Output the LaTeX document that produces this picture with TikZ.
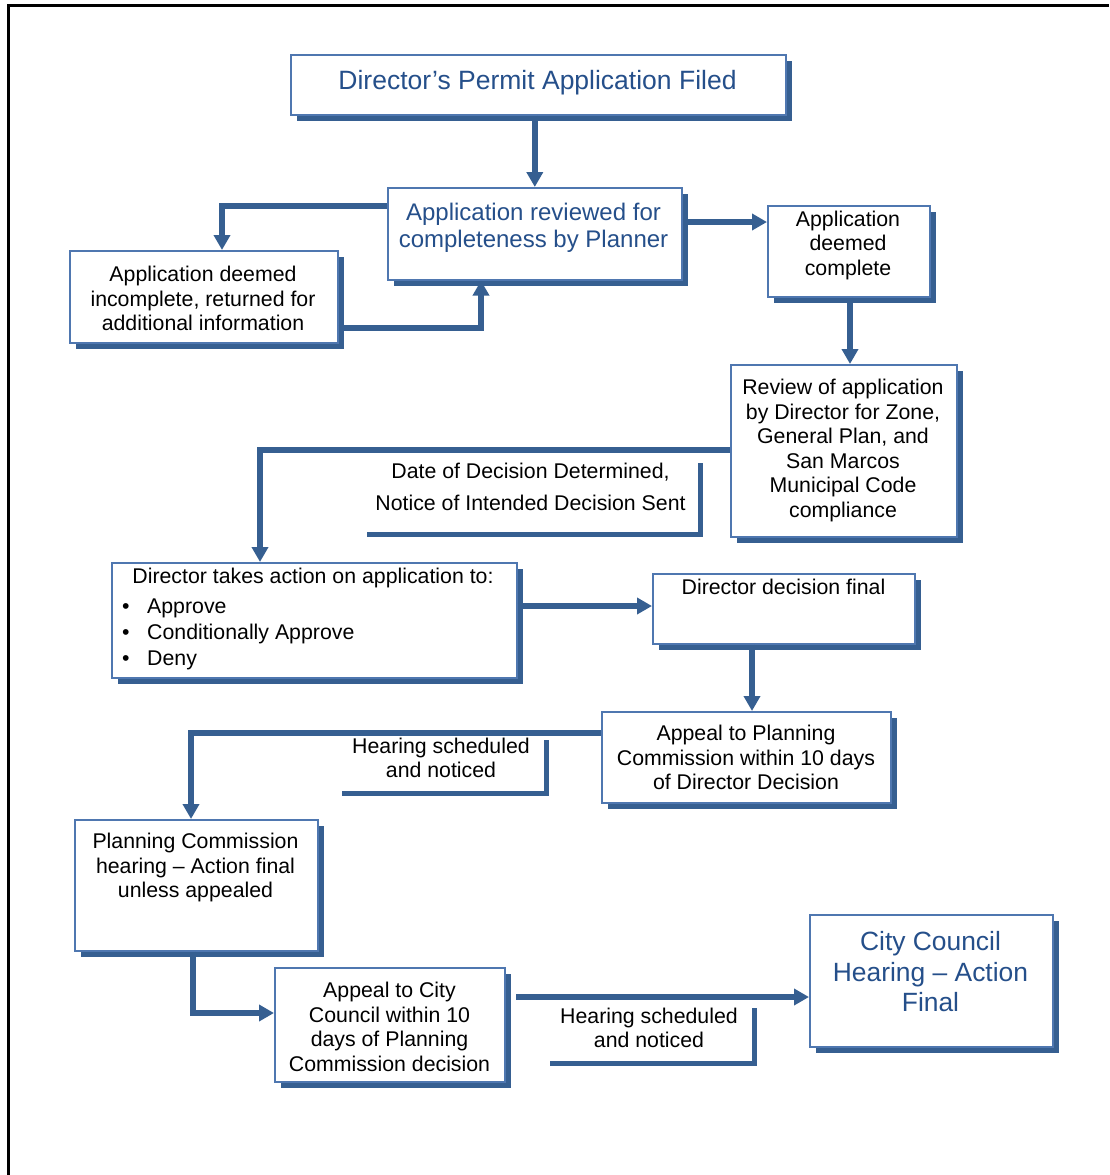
\documentclass[tikz,border=0pt]{standalone}
\usepackage{fontspec}
\setmainfont{Liberation Sans}
\usetikzlibrary{arrows.meta,shadows}
\definecolor{shadowblue}{HTML}{365F91}
\definecolor{edgeblue}{HTML}{4F77B0}
\definecolor{titleblue}{HTML}{254F8A}
\begin{document}
\begin{tikzpicture}[x=1pt,y=-1pt,
  box/.style={draw=edgeblue, line width=1.6pt, fill=white, inner sep=0pt,
    anchor=north west,
    drop shadow={shadow xshift=6pt, shadow yshift=-6pt, fill=shadowblue, opacity=1}},
  tag/.style={draw=none, fill=white, inner sep=0pt, anchor=north west,
    drop shadow={shadow xshift=5pt, shadow yshift=-5pt, fill=shadowblue, opacity=1}},
  % multi-line texts are placed by the baseline of their last line
  txt/.style={inner sep=0pt, anchor=base, align=center, text=black,
    font=\fontsize{21.3}{24.5}\selectfont},
  bluetxt/.style={txt, text=titleblue},
  arr/.style={draw=shadowblue, line width=5.5pt, line join=miter,
    -{Triangle[width=16pt,length=15pt]}}]
\useasboundingbox (0,0) rectangle (1109,1175);

% page frame
\draw[line width=2.5pt] (8.5,1175) -- (8.5,5.5) -- (1109,5.5);

% label tags (shadow edges only)
\node[tag, minimum width=336pt, minimum height=74pt] (datetag) at (362,458) {};
\node[tag, minimum width=207pt, minimum height=56pt] (heartag1) at (337,735) {};
\node[tag, minimum width=207pt, minimum height=58pt] (heartag2) at (545,1003) {};

% process boxes
\node[box, minimum width=495pt, minimum height=60pt]  (filed) at (290,54) {};
\node[box, minimum width=294pt, minimum height=92pt]  (rev)   at (387,187) {};
\node[box, minimum width=268pt, minimum height=92pt]  (inc)   at (69,250) {};
\node[box, minimum width=162pt, minimum height=91pt]  (comp)  at (767,205) {};
\node[box, minimum width=226pt, minimum height=172pt] (dir)   at (730,364) {};
\node[box, minimum width=405pt, minimum height=115pt] (act)   at (111,562) {};
\node[box, minimum width=262pt, minimum height=70pt]  (fin)   at (652,573) {};
\node[box, minimum width=289pt, minimum height=91pt]  (apc)   at (601,711) {};
\node[box, minimum width=243pt, minimum height=131pt] (pch)   at (74,819) {};
\node[box, minimum width=230pt, minimum height=114pt] (acc)   at (274,967) {};
\node[box, minimum width=243pt, minimum height=132pt] (cc)    at (809,914) {};

% texts
\node[bluetxt, font=\fontsize{26.5}{30}\selectfont] (filed-t) at (537.5,89)
  {Director’s Permit Application Filed};
\node[bluetxt, font=\fontsize{24}{27}\selectfont] (rev-t) at (533.5,247.5)
  {Application reviewed for\\completeness by Planner};
\node[txt] (inc-t) at (203,330.5)
  {Application deemed\\incomplete, returned for\\additional information};
\node[txt] (comp-t) at (848,275)
  {Application\\deemed\\complete};
\node[txt] (dir-t) at (843,517)
  {Review of application\\by Director for Zone,\\General Plan, and\\San Marcos\\Municipal Code\\compliance};
\node[txt, font=\fontsize{21.3}{32}\selectfont] (date-t) at (530.5,510.5)
  {Date of Decision Determined,\\Notice of Intended Decision Sent};
\node[txt] (act-t) at (313,583.5)
  {Director takes action on application to:};
\node[txt, anchor=base west, align=left, font=\fontsize{21.3}{26}\selectfont] (act-list) at (122,665.5)
  {\makebox[25pt][l]{\textbullet}Approve\\
   \makebox[25pt][l]{\textbullet}Conditionally Approve\\
   \makebox[25pt][l]{\textbullet}Deny};
\node[txt] (fin-t) at (783.5,594.5)
  {Director decision final};
\node[txt] (apc-t) at (746,789.5)
  {Appeal to Planning\\Commission within 10 days\\of Director Decision};
\node[txt] (hear1-t) at (441,777.5)
  {Hearing scheduled\\and noticed};
\node[txt] (pch-t) at (195.5,897.5)
  {Planning Commission\\hearing – Action final\\unless appealed};
\node[txt] (acc-t) at (389.5,1071)
  {Appeal to City\\Council within 10\\days of Planning\\Commission decision};
\node[txt] (hear2-t) at (649,1047.5)
  {Hearing scheduled\\and noticed};
\node[bluetxt, font=\fontsize{26.4}{30.5}\selectfont] (cc-t) at (930.5,1011.5)
  {City Council\\Hearing – Action\\Final};

% connectors
\draw[arr] (rev.north |- filed.south) -- (rev.north);
\draw[arr] (rev.west |- 0,206) -| (inc.north -| 222,0);
\draw[arr] (inc.east |- 0,328) -| (rev.south -| 481,0);
\draw[arr] (rev.east |- 0,222) -- (comp.west |- 0,222);
\draw[arr] (comp.south -| 850,0) -- (dir.north -| 850,0);
\draw[arr] (dir.west |- 0,450) -| (act.north -| 260,0);
\draw[arr] (act.east |- 0,606) -- (fin.west |- 0,606);
\draw[arr] (fin.south -| 752,0) -- (apc.north -| 752,0);
\draw[arr] (apc.west |- 0,733) -| (pch.north -| 191,0);
\draw[arr] (pch.south -| 193,0) |- (acc.west |- 0,1013);
\coordinate (accout) at (516,997);
\draw[arr] (accout) -- (cc.west |- accout);
\end{tikzpicture}
\end{document}
